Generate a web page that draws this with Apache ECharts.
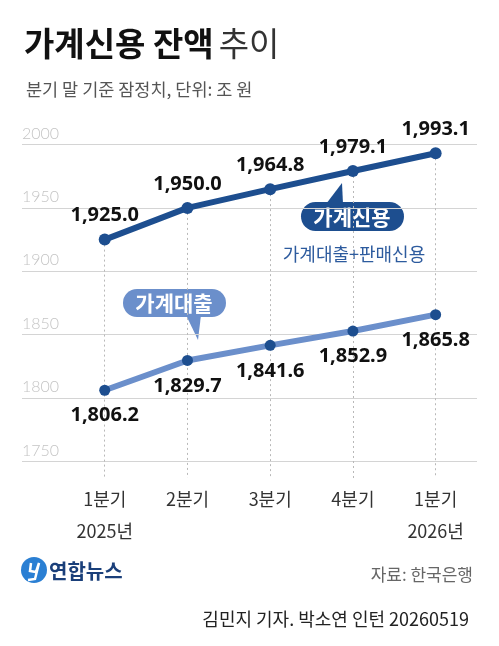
<!DOCTYPE html>
<html><head><meta charset="utf-8">
<script src="https://cdn.jsdelivr.net/npm/echarts@6/dist/echarts.min.js"></script>
<style>html,body{margin:0;padding:0;background:#fff}#c{width:499px;height:646px}</style>
</head><body><div id="c"></div>
<script>
const quarters = ['1분기\n2025년', '2분기', '3분기', '4분기', '1분기\n2026년'];
const householdCredit = [1925.0, 1950.0, 1964.8, 1979.1, 1993.1];
const householdLoans = [1806.2, 1829.7, 1841.6, 1852.9, 1865.8];
const yTicks = [1750, 1800, 1850, 1900, 1950, 2000];
const Y_MIN = 1737, Y_MAX = 2000;

const NAVY = '#1d4e8f', LIGHT = '#6b8fcb';
const KR = 'Noto Sans CJK KR';
const fmt = v => v.toLocaleString('en-US', {minimumFractionDigits: 1, maximumFractionDigits: 1});
const chart = echarts.init(document.getElementById('c'), null, {renderer: 'canvas'});

const gridLines = yTicks.map(v => ({
  yAxis: v,
  lineStyle: {type: 'solid', color: '#d4d4d4', width: 1},
  label: {show: true, position: 'insideStartTop', distance: [0, 3], formatter: String(v),
    fontFamily: 'Lato', fontWeight: 300, fontSize: 16, color: '#c4c4c4'}
}));
const dropLines = householdCredit.map((v, i) => [
  {coord: [i, v], lineStyle: {type: [2, 3], color: '#b8b8b8', width: 1}, label: {show: false}},
  {coord: [i, Y_MIN], label: {show: false}}
]);

const option = {
  animation: false,
  backgroundColor: '#fff',
  title: [
    {text: '{b|가계신용 잔액} {n|추이}', left: 19, top: 22,
      textStyle: {rich: {
        b: {fontFamily: KR, fontWeight: 'bold', fontSize: 33, color: '#111'},
        n: {fontFamily: KR, fontWeight: 'normal', fontSize: 33, color: '#333'}}}},
    {text: '분기 말 기준 잠정치, 단위: 조 원', left: 21, top: 76,
      textStyle: {fontFamily: KR, fontWeight: 'normal', fontSize: 17.5, color: '#555'}},
    {text: '자료: 한국은행', right: 21, top: 561,
      textStyle: {fontFamily: KR, fontWeight: 'normal', fontSize: 17, color: '#666'}},
    {text: '김민지 기자. 박소연 인턴 20260519', right: 25, top: 605,
      textStyle: {fontFamily: KR, fontWeight: 'normal', fontSize: 18, color: '#222'}}
  ],
  grid: {left: 22, right: 22, top: 144.5, bottom: 646 - 478},
  xAxis: {
    type: 'value', min: -1, max: 4.5, interval: 1,
    axisLine: {show: false}, axisTick: {show: false}, splitLine: {show: false},
    axisLabel: {
      margin: 5, showMaxLabel: false, showMinLabel: false,
      formatter: v => (Number.isInteger(v) && v >= 0 && v < quarters.length) ? quarters[v] : '',
      fontFamily: KR, fontSize: 18, lineHeight: 32, color: '#333'
    }
  },
  yAxis: {type: 'value', min: Y_MIN, max: Y_MAX, show: false},
  series: [
    {
      name: '가계신용', type: 'line', z: 4,
      data: householdCredit.map((v, i) => [i, v]),
      lineStyle: {width: 6, color: NAVY},
      symbol: 'circle', symbolSize: 12, itemStyle: {color: NAVY},
      label: {show: true, position: 'top', distance: 8, formatter: p => fmt(p.value[1]),
        fontFamily: 'Noto Sans', fontWeight: 'bold', fontSize: 20, color: '#111'},
      markLine: {silent: true, symbol: ['none', 'none'], z: 1, animation: false,
        data: gridLines.concat(dropLines)}
    },
    {
      name: '가계대출', type: 'line', z: 3,
      data: householdLoans.map((v, i) => [i, v]),
      lineStyle: {width: 6, color: LIGHT},
      symbol: 'circle', symbolSize: 11, itemStyle: {color: NAVY},
      label: {show: true, position: 'bottom', distance: 10, formatter: p => fmt(p.value[1]),
        fontFamily: 'Noto Sans', fontWeight: 'bold', fontSize: 20, color: '#111'}
    }
  ],
  graphic: [
    {type: 'rect', shape: {x: 301, y: 202, width: 103, height: 29, r: 14.5}, style: {fill: NAVY}},
    {type: 'polygon', shape: {points: [[326, 204], [342, 183], [343, 204]]}, style: {fill: NAVY}},
    {type: 'text', x: 352, y: 217, style: {text: '가계신용', align: 'center', verticalAlign: 'middle',
      fill: '#fff', font: 'bold 21px "Noto Sans CJK KR"'}},
    {type: 'text', x: 354, y: 254, style: {text: '가계대출+판매신용', align: 'center', verticalAlign: 'middle',
      fill: '#2d5b9e', font: '18px "Noto Sans CJK KR"'}},
    {type: 'rect', shape: {x: 123, y: 289, width: 103, height: 28, r: 14}, style: {fill: LIGHT}},
    {type: 'polygon', shape: {points: [[186, 315], [198, 340], [201, 315]]}, style: {fill: LIGHT}},
    {type: 'text', x: 174, y: 303, style: {text: '가계대출', align: 'center', verticalAlign: 'middle',
      fill: '#fff', font: 'bold 21px "Noto Sans CJK KR"'}},
    {type: 'circle', shape: {cx: 34, cy: 570, r: 13}, style: {fill: '#2a7fd3'}},
    {type: 'polyline', shape: {points: [[31, 563], [30, 571], [36, 572], [39, 563], [35, 579], [28, 580]]},
      style: {stroke: '#fff', lineWidth: 2.5, fill: null}},
    {type: 'text', x: 49, y: 571, style: {text: '연합뉴스', align: 'left', verticalAlign: 'middle',
      fill: '#1a3f7a', font: 'bold 20px "Noto Sans CJK KR"'}}
  ]
};
chart.setOption(option);
</script></body></html>
